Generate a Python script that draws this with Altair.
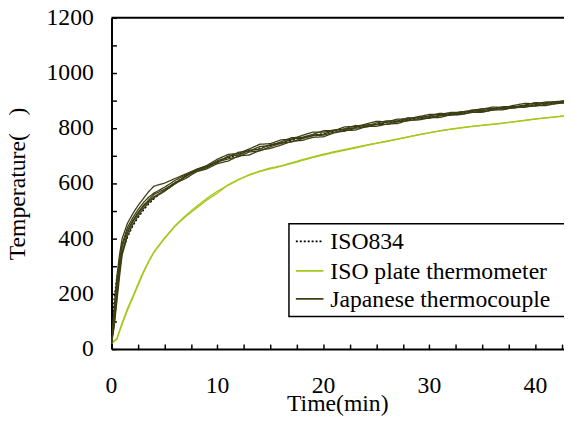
import altair as alt
import pandas as pd

# ---------------- data ----------------
# ISO834 standard curve (dotted)
iso_t = [0, 0.25, 0.5, 0.75, 1, 1.5, 2, 2.5, 3, 3.5, 4,
         5, 6, 7, 8, 9, 10, 11, 12, 13, 14, 15, 16, 17, 18, 19, 20, 21, 22, 23, 24,
         25, 26, 27, 28, 29, 30, 31, 32, 33, 34, 35, 36, 37, 38, 39, 40, 41, 42, 43]
iso_v = [20, 185, 261, 312, 349, 404, 445, 476, 502, 525, 544,
         576, 603, 626, 646, 663, 678, 693, 705, 717, 728, 739, 748, 757, 766, 774, 781,
         789, 796, 802, 809, 815, 820, 826, 832, 837, 842, 847, 851, 856, 861, 865, 869,
         873, 877, 881, 885, 888, 892, 896]

# Japanese thermocouple runs (same time grid)
jp_t = iso_t
jp1 = [25, 150, 260, 340, 400, 455, 490, 520, 545, 570, 590,
       601, 618, 634, 651, 665, 688, 705, 709, 725, 742, 744, 758, 760, 774, 786, 786,
       791, 805, 806, 815, 825, 823, 833, 834, 842, 850, 850, 857, 857, 866, 869, 877,
       875, 883, 890, 889, 895, 895, 902]
jp2 = [20, 120, 230, 320, 380, 440, 475, 505, 530, 550, 565,
       586, 611, 631, 648, 660, 683, 695, 713, 717, 734, 737, 751, 766, 767, 778, 791,
       792, 798, 810, 808, 819, 827, 827, 838, 837, 845, 854, 851, 860, 862, 871, 871,
       878, 878, 884, 893, 890, 897, 898]
jp3 = [20, 100, 210, 300, 370, 430, 465, 495, 520, 540, 560,
       579, 603, 624, 650, 663, 675, 699, 703, 720, 724, 741, 745, 761, 764, 775, 778,
       794, 794, 803, 812, 813, 822, 823, 833, 841, 840, 847, 854, 854, 863, 864, 870,
       876, 875, 882, 885, 892, 892, 897]
jp4 = [20, 90, 190, 280, 350, 420, 460, 490, 515, 535, 552,
       574, 598, 628, 643, 657, 678, 689, 697, 714, 718, 733, 746, 750, 762, 773, 775,
       786, 789, 800, 804, 814, 814, 824, 827, 834, 836, 845, 847, 850, 859, 860, 866,
       872, 873, 879, 880, 887, 889, 894]
jp5 = [20, 80, 170, 260, 340, 410, 450, 482, 508, 530, 548,
       571, 600, 618, 642, 653, 672, 681, 700, 703, 720, 727, 739, 753, 756, 767, 769,
       783, 792, 793, 806, 807, 815, 817, 829, 830, 838, 839, 849, 850, 857, 858, 866,
       867, 875, 876, 882, 882, 890, 892]

# ISO plate thermometer runs
plate_t = [0, 0.5, 1, 1.5, 2, 2.5, 3, 3.5, 4,
           5, 6, 7, 8, 9, 10, 11, 12, 13, 14, 15, 16, 17, 18, 19, 20, 21, 22, 23, 24,
           25, 26, 27, 28, 29, 30, 31, 32, 33, 34, 35, 36, 37, 38, 39, 40, 41, 42, 43]
plate1 = [20, 35, 90, 140, 185, 230, 275, 315, 350,
          400, 445, 480, 510, 540, 565, 595, 615, 630, 643, 653, 662, 672, 683, 694, 703,
          712, 720, 728, 737, 745, 752, 760, 768, 776, 783, 790, 796, 801, 806, 810, 814,
          818, 823, 828, 833, 837, 841, 845]
plate2 = [22, 38, 95, 146, 190, 236, 280, 318, 352,
          403, 447, 484, 516, 546, 572, 593, 613, 632, 645, 656, 664, 675, 686, 696, 706,
          715, 723, 731, 739, 746, 754, 761, 769, 777, 784, 791, 797, 802, 807, 811, 815,
          819, 824, 829, 834, 838, 842, 846]

series_names = ["ISO834", "ISO plate thermometer", "Japanese thermocouple"]
series_colors = ["#000000", "#a4c81c", "#3e3e14"]
series_dashes = [[2, 2], [1, 0], [1, 0]]
x_ticks = [0, 2.5, 5, 7.5, 10, 12.5, 15, 17.5, 20, 22.5, 25, 27.5, 30, 32.5, 35, 37.5, 40, 42.5]
x_labels = [0, 10, 20, 30, 40]
y_ticks = [0, 100, 200, 300, 400, 500, 600, 700, 800, 900, 1000, 1100, 1200]
y_labels = [0, 200, 400, 600, 800, 1000, 1200]

# ---------------- build table ----------------
rows = []
for t, v in zip(iso_t, iso_v):
    rows.append({"t": t, "v": v, "series": "ISO834", "run": "iso"})
for i, run in enumerate([plate1, plate2]):
    for t, v in zip(plate_t, run):
        rows.append({"t": t, "v": v, "series": "ISO plate thermometer", "run": f"p{i}"})
for i, run in enumerate([jp1, jp2, jp3, jp4, jp5]):
    for t, v in zip(jp_t, run):
        rows.append({"t": t, "v": v, "series": "Japanese thermocouple", "run": f"j{i}"})
df = pd.DataFrame(rows)

W, H = 459, 336
XMAX = 42.7
FONT = "Liberation Serif"
FS = 24

x_scale = alt.Scale(domain=[0, XMAX], nice=False, zero=False)
y_scale = alt.Scale(domain=[0, 1200], nice=False)

lines = alt.Chart(df).mark_line(strokeWidth=1.3, clip=True).encode(
    x=alt.X("t:Q", scale=x_scale,
            axis=alt.Axis(orient="bottom", values=x_labels, labels=False, ticks=False, tickSize=0,
                          domain=True, domainColor="black", domainWidth=2, grid=False, title=None)),
    y=alt.Y("v:Q", scale=y_scale,
            axis=alt.Axis(orient="left", values=y_labels, labels=False, ticks=False, tickSize=0,
                          domain=True, domainColor="black", domainWidth=2, grid=False,
                          title="Temperature(\u00a0\u00a0\u00a0)", titleFont=FONT,
                          titleFontSize=FS, titleFontWeight="normal", titleColor="black",
                          titleX=-83)),
    color=alt.Color("series:N", scale=alt.Scale(domain=series_names, range=series_colors),
                    legend=None),
    strokeDash=alt.StrokeDash("series:N", scale=alt.Scale(domain=series_names, range=series_dashes),
                              legend=None),
    detail="run:N",
)

frame_df = pd.DataFrame({"x0": [0], "x1": [XMAX], "y": [1200]})
frame = alt.Chart(frame_df).mark_rule(color="black", strokeWidth=2).encode(
    x=alt.X("x0:Q", scale=x_scale,
            axis=alt.Axis(orient="top", offset=-H, values=x_ticks, labels=False, domain=False,
                          ticks=True, tickSize=5, tickColor="black", tickWidth=1.5,
                          grid=False, title=None)),
    x2="x1:Q",
    y=alt.Y("y:Q", scale=y_scale,
            axis=alt.Axis(orient="right", offset=-W, values=y_ticks, labels=False, domain=False,
                          ticks=True, tickSize=5, tickColor="black", tickWidth=1.5,
                          grid=False, title=None)),
)

# tick labels as text marks, positioned through the shared scales
xlab = alt.Chart(pd.DataFrame({"v": x_labels})).mark_text(
    font=FONT, fontSize=FS, color="black", baseline="middle", align="center"
).encode(x=alt.X("v:Q", scale=x_scale, axis=None), y=alt.value(H + 38),
         text=alt.Text("v:Q", format="d"))

ylab = alt.Chart(pd.DataFrame({"v": y_labels})).mark_text(
    font=FONT, fontSize=FS, color="black", baseline="middle", align="right"
).encode(y=alt.Y("v:Q", scale=y_scale, axis=None), x=alt.value(-18),
         text=alt.Text("v:Q", format="d"))

xtitle = alt.Chart(pd.DataFrame({"t": ["Time(min)"]})).mark_text(
    font=FONT, fontSize=FS, color="black", baseline="alphabetic", align="center"
).encode(x=alt.value(W / 2), y=alt.value(H + 63), text="t:N")

# legend box and entries
leg_box = alt.Chart(pd.DataFrame({"a": [0]})).mark_rect(
    fill="white", stroke="black", strokeWidth=1.5
).encode(x=alt.value(180), x2=alt.value(520), y=alt.value(209), y2=alt.value(303))

legend_rows_y = [226.7, 256.7, 285]
legend_layers = [leg_box]
for name, col, dash, yy in zip(series_names, series_colors, series_dashes, legend_rows_y):
    d = pd.DataFrame({"name": [name]})
    legend_layers.append(
        alt.Chart(d).mark_rule(color=col, strokeWidth=1.8, strokeDash=dash).encode(
            x=alt.value(187), x2=alt.value(215), y=alt.value(yy))
    )
    legend_layers.append(
        alt.Chart(d).mark_text(font=FONT, fontSize=FS, color="black", align="left",
                               baseline="middle").encode(
            x=alt.value(222), y=alt.value(yy + 1), text="name:N")
    )

chart = alt.layer(lines, frame, xlab, ylab, xtitle, *legend_layers).resolve_axis(
    x="independent", y="independent"
).properties(
    width=W, height=H,
    autosize=alt.AutoSizeParams(type="none"),
    padding={"left": 105, "top": 7, "right": 0, "bottom": 68},
).configure_view(stroke=None)

chart.save("out.html", embed_options={"renderer": "svg", "actions": False})
